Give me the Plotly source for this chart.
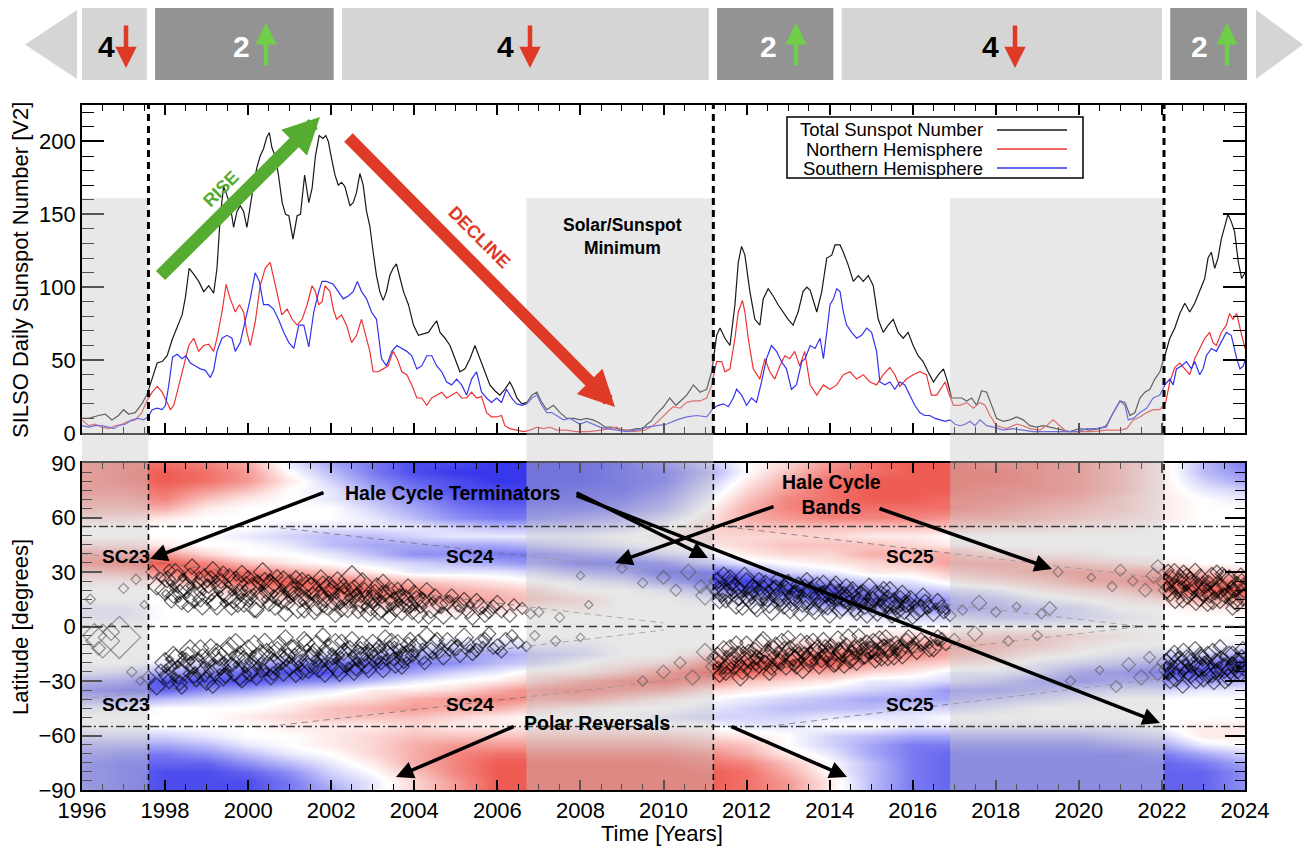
import plotly.graph_objects as go

# ------------------------------------------------------------------ DATA
# SILSO smoothed daily sunspot numbers: (year, value)
total_series = [
(1996.00,10),(1996.16,10),(1996.40,12),(1996.56,13),(1996.72,9),(1996.88,12),(1997.00,16),(1997.12,13),(1997.28,14),(1997.44,20),(1997.56,26),(1997.69,37),(1997.81,48),(1997.93,49),(1998.05,53),(1998.17,64),(1998.29,73),(1998.41,81),(1998.49,93),(1998.58,113),(1998.69,109),(1998.81,104),(1998.93,97),(1999.05,101),(1999.17,96),(1999.25,113),(1999.33,149),(1999.41,169),(1999.49,163),(1999.57,156),(1999.65,141),(1999.73,152),(1999.81,156),(1999.89,152),(1999.97,141),(2000.05,156),(2000.13,170),(2000.21,182),(2000.29,190),(2000.37,195),(2000.45,203),(2000.51,206),(2000.57,196),(2000.65,190),(2000.73,177),(2000.82,158),(2000.90,150),(2000.98,149),(2001.08,133),(2001.18,149),(2001.26,150),(2001.36,177),(2001.46,158),(2001.54,168),(2001.62,190),(2001.71,204),(2001.80,202),(2001.87,204),(2001.93,200),(2002.01,188),(2002.09,177),(2002.17,170),(2002.25,172),(2002.33,169),(2002.45,156),(2002.53,158),(2002.61,165),(2002.69,178),(2002.77,170),(2002.85,152),(2002.93,142),(2003.01,124),(2003.09,108),(2003.17,97),(2003.25,91),(2003.33,97),(2003.41,108),(2003.49,113),(2003.57,116),(2003.66,106),(2003.74,97),(2003.86,88),(2003.98,74),(2004.10,67),(2004.22,68),(2004.34,69),(2004.46,74),(2004.54,77),(2004.62,69),(2004.74,65),(2004.86,60),(2004.98,51),(2005.10,42),(2005.22,44),(2005.34,51),(2005.46,60),(2005.58,51),(2005.70,42),(2005.82,33),(2005.94,29),(2006.06,26),(2006.18,30),(2006.30,35),(2006.39,30),(2006.47,24),(2006.59,20),(2006.71,21),(2006.83,26),(2006.95,28),(2007.07,21),(2007.19,16),(2007.35,19),(2007.51,14),(2007.67,10),(2007.85,10),(2008.00,9),(2008.15,10),(2008.30,9),(2008.45,7),(2008.60,4),(2008.75,4),(2008.90,3),(2009.05,2),(2009.20,2),(2009.35,3),(2009.50,3),(2009.60,6),(2009.70,8),(2009.80,12),(2009.90,15),(2010.00,18),(2010.15,24),(2010.30,19),(2010.45,23),(2010.56,26),(2010.72,33),(2010.88,28),(2011.04,30),(2011.16,42),(2011.28,67),(2011.36,72),(2011.48,65),(2011.60,60),(2011.72,88),(2011.80,117),(2011.88,128),(2011.96,122),(2012.08,97),(2012.20,78),(2012.32,74),(2012.40,92),(2012.52,99),(2012.64,94),(2012.76,88),(2012.88,83),(2013.00,78),(2013.12,74),(2013.24,83),(2013.36,97),(2013.45,100),(2013.53,98),(2013.69,83),(2013.81,97),(2013.93,120),(2014.05,122),(2014.13,129),(2014.25,129),(2014.33,124),(2014.45,115),(2014.57,104),(2014.69,108),(2014.81,104),(2014.93,108),(2015.05,101),(2015.17,78),(2015.29,69),(2015.41,74),(2015.53,78),(2015.65,69),(2015.77,65),(2015.89,69),(2016.01,60),(2016.13,53),(2016.25,49),(2016.37,42),(2016.50,35),(2016.62,40),(2016.74,44),(2016.82,37),(2016.94,24),(2017.06,24),(2017.18,24),(2017.30,22),(2017.42,24),(2017.54,19),(2017.66,29),(2017.78,28),(2017.90,19),(2018.02,10),(2018.18,8),(2018.34,9),(2018.50,11),(2018.66,9),(2018.82,5),(2018.98,4),(2019.14,5),(2019.30,4),(2019.54,2),(2019.78,1),(2020.02,3),(2020.26,2),(2020.50,3),(2020.66,5),(2020.83,14),(2020.99,22),(2021.11,21),(2021.23,12),(2021.35,14),(2021.47,24),(2021.59,28),(2021.71,30),(2021.83,37),(2021.95,42),(2022.07,53),(2022.19,65),(2022.31,72),(2022.43,82),(2022.55,89),(2022.67,83),(2022.79,89),(2022.91,97),(2023.03,106),(2023.11,120),(2023.19,124),(2023.27,113),(2023.35,120),(2023.43,133),(2023.51,142),(2023.59,150),(2023.67,145),(2023.75,138),(2023.84,117),(2023.92,106),(2024.00,110),
]
north_series = [
(1996.00,9),(1996.16,5),(1996.32,6),(1996.48,4),(1996.64,3),(1996.80,5),(1996.96,6),(1997.12,8),(1997.28,9),(1997.44,14),(1997.56,22),(1997.69,28),(1997.81,32),(1997.93,28),(1998.05,21),(1998.13,16),(1998.21,19),(1998.33,32),(1998.45,46),(1998.57,60),(1998.69,65),(1998.81,56),(1998.93,60),(1999.05,61),(1999.17,56),(1999.25,65),(1999.37,83),(1999.47,102),(1999.57,92),(1999.69,83),(1999.79,88),(1999.89,83),(1999.97,69),(2000.05,60),(2000.17,76),(2000.29,101),(2000.41,113),(2000.53,117),(2000.61,108),(2000.69,97),(2000.81,81),(2000.94,85),(2001.06,78),(2001.18,74),(2001.30,78),(2001.42,88),(2001.54,101),(2001.62,97),(2001.70,88),(2001.78,90),(2001.85,101),(2001.97,97),(2002.05,85),(2002.13,78),(2002.25,81),(2002.37,74),(2002.49,62),(2002.61,67),(2002.73,78),(2002.81,69),(2002.93,56),(2003.01,42),(2003.13,42),(2003.25,44),(2003.37,46),(2003.49,56),(2003.59,51),(2003.70,42),(2003.82,40),(2003.94,33),(2004.06,24),(2004.18,24),(2004.30,19),(2004.42,24),(2004.54,26),(2004.66,28),(2004.78,24),(2004.90,26),(2005.02,28),(2005.14,24),(2005.26,24),(2005.38,28),(2005.50,24),(2005.62,25),(2005.74,14),(2005.86,11),(2005.98,11),(2006.10,12),(2006.18,5),(2006.30,3),(2006.47,2),(2006.63,1),(2006.79,2),(2006.95,4),(2007.11,3),(2007.27,4),(2007.43,2),(2007.67,2),(2007.90,1),(2008.20,1),(2008.50,2),(2008.70,3),(2008.87,4),(2009.00,2),(2009.30,1),(2009.55,2),(2009.75,5),(2009.90,9),(2010.07,14),(2010.23,18),(2010.40,17),(2010.56,21),(2010.72,22),(2010.88,22),(2011.04,24),(2011.16,33),(2011.28,49),(2011.40,49),(2011.48,42),(2011.60,44),(2011.72,65),(2011.80,83),(2011.90,91),(2011.96,83),(2012.04,65),(2012.16,44),(2012.32,37),(2012.44,51),(2012.56,42),(2012.68,37),(2012.80,46),(2012.92,53),(2013.04,51),(2013.16,56),(2013.28,46),(2013.40,56),(2013.53,33),(2013.69,26),(2013.85,33),(2014.01,30),(2014.17,33),(2014.33,40),(2014.49,42),(2014.65,37),(2014.81,40),(2014.97,35),(2015.13,33),(2015.29,40),(2015.45,45),(2015.57,40),(2015.69,32),(2015.85,37),(2016.01,40),(2016.17,42),(2016.33,40),(2016.45,26),(2016.58,26),(2016.70,32),(2016.78,35),(2016.86,28),(2016.98,19),(2017.14,19),(2017.30,21),(2017.46,17),(2017.62,21),(2017.74,19),(2017.86,12),(2018.02,5),(2018.26,3),(2018.50,6),(2018.66,5),(2018.82,3),(2019.06,2),(2019.22,5),(2019.38,9),(2019.54,5),(2019.70,1),(2020.02,1),(2020.34,1),(2020.66,2),(2020.99,2),(2021.15,3),(2021.31,9),(2021.47,11),(2021.63,14),(2021.79,16),(2021.95,16),(2022.09,21),(2022.19,35),(2022.31,45),(2022.43,48),(2022.55,44),(2022.67,40),(2022.79,51),(2022.91,58),(2023.03,65),(2023.15,69),(2023.23,62),(2023.31,60),(2023.43,69),(2023.55,74),(2023.63,82),(2023.71,78),(2023.80,82),(2023.88,72),(2023.97,62),(2024.00,58),
]
south_series = [
(1996.00,5),(1996.16,4),(1996.32,5),(1996.48,5),(1996.64,4),(1996.76,3),(1996.88,5),(1997.04,6),(1997.20,9),(1997.36,10),(1997.48,9),(1997.59,11),(1997.69,16),(1997.81,17),(1997.93,16),(1998.01,19),(1998.09,33),(1998.18,52),(1998.29,54),(1998.41,51),(1998.50,53),(1998.61,48),(1998.73,46),(1998.85,44),(1998.97,43),(1999.09,38),(1999.17,43),(1999.25,56),(1999.37,65),(1999.49,67),(1999.61,65),(1999.69,56),(1999.81,62),(1999.93,76),(2000.05,92),(2000.17,110),(2000.27,104),(2000.37,88),(2000.49,88),(2000.61,85),(2000.73,78),(2000.86,69),(2000.98,62),(2001.10,58),(2001.22,74),(2001.34,74),(2001.46,59),(2001.58,83),(2001.70,97),(2001.78,104),(2001.89,104),(2002.05,102),(2002.17,97),(2002.29,92),(2002.41,94),(2002.53,97),(2002.63,104),(2002.73,97),(2002.85,92),(2002.97,83),(2003.09,78),(2003.21,51),(2003.33,46),(2003.46,56),(2003.58,60),(2003.70,58),(2003.82,56),(2003.94,53),(2004.06,44),(2004.18,46),(2004.30,53),(2004.42,53),(2004.54,46),(2004.66,42),(2004.78,35),(2004.90,33),(2005.02,37),(2005.14,33),(2005.26,26),(2005.38,37),(2005.50,42),(2005.62,28),(2005.74,24),(2005.86,21),(2005.98,24),(2006.10,21),(2006.22,30),(2006.34,24),(2006.46,20),(2006.59,19),(2006.71,20),(2006.83,24),(2006.95,26),(2007.07,19),(2007.19,14),(2007.31,14),(2007.43,12),(2007.59,9),(2007.75,10),(2007.99,6),(2008.15,8),(2008.31,6),(2008.47,4),(2008.63,3),(2008.87,2),(2009.11,1),(2009.35,2),(2009.59,4),(2009.83,5),(2010.07,6),(2010.32,9),(2010.56,11),(2010.80,12),(2011.04,11),(2011.20,17),(2011.32,19),(2011.44,20),(2011.56,18),(2011.68,24),(2011.76,30),(2011.88,26),(2012.00,19),(2012.12,24),(2012.24,21),(2012.36,35),(2012.48,51),(2012.60,60),(2012.72,56),(2012.84,49),(2012.96,44),(2013.08,30),(2013.20,33),(2013.33,49),(2013.41,51),(2013.53,60),(2013.65,58),(2013.77,65),(2013.85,51),(2013.93,69),(2014.01,88),(2014.09,92),(2014.17,99),(2014.25,97),(2014.33,83),(2014.41,74),(2014.53,69),(2014.65,65),(2014.77,67),(2014.89,72),(2015.01,69),(2015.13,56),(2015.21,35),(2015.33,33),(2015.45,35),(2015.57,30),(2015.69,35),(2015.81,33),(2015.93,26),(2016.05,19),(2016.17,14),(2016.29,12),(2016.41,12),(2016.54,10),(2016.66,9),(2016.78,8),(2016.90,9),(2017.02,6),(2017.14,5),(2017.26,6),(2017.38,8),(2017.50,5),(2017.62,9),(2017.78,5),(2017.94,4),(2018.18,2),(2018.42,3),(2018.66,2),(2018.90,1),(2019.22,1),(2019.60,1),(2020.00,1),(2020.18,3),(2020.42,3),(2020.66,4),(2020.83,14),(2020.99,22),(2021.11,19),(2021.19,9),(2021.31,10),(2021.47,14),(2021.63,17),(2021.79,24),(2021.95,26),(2022.07,33),(2022.19,37),(2022.27,33),(2022.35,44),(2022.47,46),(2022.59,49),(2022.71,44),(2022.79,49),(2022.91,40),(2022.99,44),(2023.07,53),(2023.19,58),(2023.31,56),(2023.43,62),(2023.55,69),(2023.67,67),(2023.80,51),(2023.88,44),(2023.96,46),(2024.00,50),
]

# shaded solar-minimum intervals, Hale-cycle terminators, cycle phases
minima = [[1996.0, 1997.6], [2006.7, 2011.2], [2016.9, 2022.05]]
minimum_top = 161
terminators = [1997.6, 2011.2, 2022.05]
phase_edges = [1995.9, 1997.66, 2002.16, 2011.19, 2014.19, 2022.1, 2024.15]
phase_label = ['4', '2', '4', '2', '4', '2']

# Hale-cycle band field: one column per year, latitudes 90 -> -90 in steps of 5 deg
field_years = list(range(1996, 2025))
field_lats = list(range(-90, 95, 5))
field_cols = [
[6,6,6,6,5,4,2,0, 0,2,5,6,3,1,0,0,-1,-1,0,0,0,0,0,-1,-4,-6,-4,-1,0, 0,-2,-4,-5,-6,-6,-6,-6],
[7,7,7,6,5,4,2,0, 0,2,5,7,4,1,0,0,-1,-1,0,0,0,0,0,-2,-5,-7,-4,-1,0, 0,-2,-4,-6,-7,-7,-7,-7],
[7,8,8,7,6,4,1,0, 0,1,5,8,6,2,0,0,0,0,0,0,0,0,-1,-4,-8,-7,-3,0,0, 0,-2,-4,-6,-7,-8,-8,-8],
[6,7,7,5,3,1,0,0, 0,0,2,6,8,5,1,0,0,0,0,0,0,0,-2,-5,-8,-5,-2,0,0, 0,-1,-3,-5,-7,-8,-8,-8],
[4,5,5,3,1,0,0,0, -1,0,0,3,7,8,4,1,0,0,0,0,0,0,-3,-7,-8,-4,-1,0,1, 0,0,-1,-3,-5,-7,-8,-8],
[-1,0,1,0,0,0,0,-1, -2,-1,0,1,5,8,6,2,0,0,0,0,0,-1,-5,-8,-6,-2,0,1,2, 1,0,0,-1,-3,-5,-6,-6],
[-4,-3,-2,-1,-1,0,0,-1, -3,-3,-1,0,3,7,8,4,1,0,0,0,0,-2,-6,-8,-5,-1,1,3,3, 1,1,1,0,-1,-2,-3,-4],
[-6,-6,-5,-4,-3,-2,-1,-1, -3,-4,-3,-1,1,5,7,5,1,0,0,0,-1,-3,-7,-6,-3,1,2,4,3, 1,2,2,2,1,0,-1,-1],
[-8,-8,-7,-6,-5,-4,-3,-1, -2,-4,-5,-2,-1,3,6,5,2,0,0,0,-1,-4,-6,-4,-1,1,4,5,3, 2,3,4,4,4,3,2,2],
[-8,-9,-8,-8,-7,-6,-5,-2, -1,-4,-5,-3,-1,2,4,5,2,0,0,0,-2,-4,-5,-2,0,2,5,4,2, 1,3,5,6,6,6,5,5],
[-9,-9,-9,-8,-8,-7,-6,-3, -1,-4,-6,-4,-1,1,3,4,2,0,0,0,-2,-4,-3,-1,1,4,6,4,1, 1,3,5,7,8,8,8,8],
[-9,-9,-9,-9,-8,-7,-6,-3, -1,-3,-6,-5,-2,0,2,3,1,0,0,0,-1,-3,-2,1,3,6,5,2,0, 1,3,5,7,8,8,8,8],
[-9,-9,-9,-8,-8,-7,-5,-3, -1,-2,-5,-7,-4,-1,0,2,1,0,0,0,-1,-2,0,1,5,7,5,1,0, 1,3,5,7,8,8,8,8],
[-8,-8,-8,-8,-7,-6,-4,-2, 0,-1,-4,-7,-5,-2,0,0,0,0,0,0,0,0,1,3,7,6,3,0,0, 1,3,5,7,8,8,8,8],
[-6,-7,-7,-6,-5,-4,-2,0, 1,0,-2,-6,-8,-5,-1,0,0,0,0,0,0,0,2,6,8,5,1,0,-1, 0,3,5,7,8,8,8,8],
[-3,-4,-3,-2,-1,0,1,2, 2,1,-1,-3,-8,-8,-4,-1,0,0,0,0,0,2,6,9,6,2,0,-1,-2, 0,2,4,6,7,8,8,8],
[0,0,1,2,3,4,4,3, 2,2,1,-1,-5,-9,-7,-2,0,0,0,0,1,4,8,8,3,1,-1,-2,-2, -1,1,3,4,6,7,7,7],
[2,3,4,5,6,6,5,3, 2,3,2,0,-2,-6,-8,-5,-1,0,0,0,2,5,8,5,2,0,-2,-3,-2, -1,0,0,1,3,4,5,5],
[5,6,7,7,7,7,6,3, 2,3,2,1,-1,-4,-8,-7,-3,0,0,0,3,7,8,4,1,-1,-3,-3,-1, 0,-2,-2,-1,0,0,1,1],
[7,7,8,8,8,7,6,3, 1,3,4,2,1,-2,-5,-7,-4,-1,0,1,4,7,5,2,-1,-2,-4,-3,-1, 0,-3,-4,-4,-3,-3,-3,-3],
[8,8,8,8,8,7,6,3, 1,2,4,3,1,-1,-3,-6,-5,-2,0,2,5,6,3,1,-1,-3,-4,-2,-1, -1,-4,-6,-6,-6,-6,-6,-6],
[8,8,8,8,7,7,5,3, 0,1,4,5,3,1,-2,-4,-5,-2,0,2,5,4,2,-1,-2,-5,-4,-2,0, -1,-4,-6,-7,-7,-7,-7,-7],
[7,8,8,7,7,6,5,2, 0,0,2,5,4,2,-1,-3,-4,-3,0,3,4,3,1,-1,-3,-5,-3,-1,0, -1,-4,-6,-7,-7,-7,-7,-7],
[7,7,7,7,6,5,4,2, 0,0,1,4,5,3,1,-1,-3,-3,0,3,3,1,-1,-2,-5,-4,-2,0,0, -1,-4,-6,-7,-7,-7,-7,-7],
[6,6,6,6,5,4,3,1, 0,0,1,3,6,5,2,0,-2,-2,0,2,1,0,-2,-5,-6,-3,-1,0,0, -1,-4,-6,-7,-7,-7,-7,-7],
[4,4,4,4,3,3,2,1, 0,0,0,2,5,6,3,1,0,-1,0,1,0,-1,-3,-6,-5,-2,0,0,0, -1,-3,-5,-7,-7,-7,-7,-7],
[1,1,1,1,1,1,1,0, 0,0,0,1,5,8,6,2,0,0,0,0,0,-2,-5,-8,-5,-2,0,0,0, 0,-2,-4,-6,-7,-7,-7,-7],
[-3,-3,-2,-1,0,0,0,0, 0,0,0,0,3,7,8,4,1,0,0,0,0,-2,-6,-8,-5,-1,0,0,0, 1,1,-1,-4,-6,-7,-7,-7],
[-6,-5,-4,-2,-1,0,0,0, 0,0,0,0,2,6,8,5,1,0,0,0,-1,-4,-8,-7,-3,-1,0,0,0, 1,1,0,-2,-4,-5,-5,-5],
]

# fitted Hale-cycle band tracks (thin dashed): [(year, lat), (year, lat)]
band_fits = [
[(1996.0, 40), (2010.0, 2)], [(1996.0, -40), (2010.0, -2)],
[(2000.5, 55), (2021.5, 0)], [(2000.5, -55), (2021.5, 0)],
[(2011.5, 55), (2024.0, 21)], [(2012.5, -55), (2024.0, -23)],
]

# sunspot group positions: (year, latitude, relative size)
spots_early = [
(1996.2,15,6),(1996.3,-5,14),(1996.4,-12,8),(1996.5,-8,20),(1996.7,-3,10),(1996.9,-6,25),(1997.0,21,6),(1997.2,-25,6),(1997.3,26,6),(1997.4,-30,5),(1997.5,12,5),
]
spots_sc23_n = [
(1997.7,30,8),(1997.8,22,10),(1997.9,27,6),(1998.0,20,12),(1998.1,31,7),(1998.2,17,9),(1998.3,25,14),(1998.4,13,8),(1998.5,21,11),(1998.6,28,9),(1998.7,16,13),(1998.8,24,7),(1998.9,11,10),(1999.0,19,15),(1999.1,27,8),(1999.2,14,11),(1999.3,22,9),(1999.4,30,7),(1999.5,17,12),(1999.6,10,8),(1999.7,24,14),(1999.8,19,9),(1999.9,13,11),(2000.0,27,8),(2000.1,21,13),(2000.2,9,9),(2000.3,16,12),(2000.4,25,10),(2000.5,12,8),(2000.6,20,15),(2000.7,28,7),(2000.8,15,11),(2000.9,7,9),(2001.0,23,12),(2001.1,18,9),(2001.2,11,14),(2001.3,26,8),(2001.4,14,10),(2001.5,21,13),(2001.6,8,9),(2001.7,17,11),(2001.8,24,8),(2001.9,12,12),(2002.0,19,10),(2002.1,6,8),(2002.2,15,13),(2002.3,22,9),(2002.4,10,11),(2002.5,26,16),(2002.6,17,8),(2002.7,13,12),(2002.8,20,9),(2002.9,7,10),(2003.0,15,11),(2003.1,23,8),(2003.2,11,13),(2003.3,18,9),(2003.4,5,8),(2003.5,14,11),(2003.6,21,7),(2003.7,9,12),(2003.8,16,9),(2003.9,12,10),(2004.0,19,8),(2004.1,7,11),(2004.2,14,9),(2004.4,10,12),(2004.5,17,8),(2004.7,6,10),(2004.8,13,9),(2005.0,9,11),(2005.2,15,8),(2005.4,5,9),(2005.6,11,10),(2005.8,8,8),(2006.0,13,9),(2006.3,6,8),(2006.6,10,7),(2007.0,8,6),(2007.5,5,6),(2008.2,12,5),
(1998.05,26,10),(1998.15,14,8),(1998.25,29,12),(1998.35,19,9),(1998.45,23,13),(1998.55,11,7),(1998.65,33,9),(1998.75,20,11),(1998.85,15,9),(1998.95,26,12),(1999.05,22,8),(1999.15,31,10),(1999.25,12,12),(1999.35,25,9),(1999.45,20,14),(1999.55,28,8),(1999.65,15,11),(1999.75,12,9),(1999.85,29,10),(1999.95,22,12),(2000.05,16,9),(2000.15,11,13),(2000.25,24,8),(2000.35,30,11),(2000.45,19,9),(2000.55,23,12),(2000.65,10,8),(2000.75,17,10),(2000.85,25,12),(2000.95,13,9),(2001.05,20,11),(2001.15,27,8),(2001.25,16,12),(2001.35,9,9),(2001.45,24,10),(2001.55,18,8),(2001.65,12,13),(2001.75,27,9),(2001.85,15,10),(2001.95,22,12),(2002.05,13,9),(2002.15,25,11),(2002.25,9,8),(2002.35,18,13),(2002.45,14,9),(2002.55,21,10),(2002.65,8,8),(2002.75,24,12),(2002.85,16,9),(2002.95,11,11),(2003.05,19,9),(2003.15,8,10),(2003.25,25,8),(2003.35,13,12),(2003.45,20,9),(2003.55,10,10),(2003.65,17,8),(2003.75,13,11),(2003.85,22,9),(2003.95,8,9),(2004.05,15,10),(2004.15,11,8),(2004.3,20,9),(2004.35,5,8),(2004.6,12,10),(2004.9,17,8),(2005.1,12,9),(2005.3,8,8),(2005.5,14,9),(2005.7,6,8),(2005.9,11,8),(2006.1,8,7),(2006.4,12,7),(2006.8,7,6),
(1998.02,18,5),(1998.12,24,4),(1998.22,21,5),(1998.32,15,4),(1998.42,27,5),(1998.52,17,4),(1998.62,22,5),(1998.72,13,4),(1998.82,28,5),(1998.92,19,4),(1999.02,24,5),(1999.12,16,4),(1999.22,26,5),(1999.32,18,4),(1999.42,13,5),(1999.52,23,4),(1999.62,19,5),(1999.72,27,4),(1999.82,16,5),(1999.92,21,4),(2000.02,13,5),(2000.12,19,4),(2000.22,26,5),(2000.32,21,4),(2000.42,15,5),(2000.52,27,4),(2000.62,18,5),(2000.72,13,4),(2000.82,21,5),(2000.92,18,4),(2001.02,15,5),(2001.12,23,4),(2001.22,19,5),(2001.32,13,4),(2001.42,18,5),(2001.52,25,4),(2001.62,15,5),(2001.72,21,4),(2001.82,10,5),(2001.92,18,4),(2002.02,23,5),(2002.12,17,4),(2002.22,12,5),(2002.32,20,4),(2002.42,16,5),(2002.52,12,4),(2002.62,19,5),(2002.72,15,4),(2002.82,11,5),(2002.92,18,4),(2003.02,13,5),(2003.12,17,4),(2003.22,15,5),(2003.32,21,4),(2003.42,11,5),(2003.52,17,4),(2003.62,13,5),(2003.72,19,4),(2003.82,10,5),(2003.92,15,4),(2004.02,11,5),(2004.2,17,4),(2004.45,14,5),(2004.65,9,4),(2004.85,15,5),(2005.05,10,4),(2005.35,12,5),(2005.65,9,4),
]
spots_sc23_s = [
(1997.6,-28,8),(1997.8,-33,10),(1997.9,-24,7),(1998.0,-20,12),(1998.1,-30,9),(1998.2,-16,11),(1998.3,-25,14),(1998.4,-34,7),(1998.5,-19,10),(1998.6,-13,12),(1998.7,-27,9),(1998.8,-22,15),(1998.9,-16,8),(1999.0,-30,11),(1999.1,-11,9),(1999.2,-24,13),(1999.3,-18,8),(1999.4,-28,10),(1999.5,-14,12),(1999.6,-21,9),(1999.7,-9,11),(1999.8,-26,14),(1999.9,-17,8),(2000.0,-12,10),(2000.1,-23,12),(2000.2,-29,7),(2000.3,-15,11),(2000.4,-8,9),(2000.5,-20,16),(2000.6,-26,8),(2000.7,-13,10),(2000.8,-18,13),(2000.9,-6,9),(2001.0,-22,11),(2001.1,-11,8),(2001.2,-16,12),(2001.3,-25,9),(2001.4,-9,10),(2001.5,-19,14),(2001.6,-13,8),(2001.7,-23,11),(2001.8,-5,9),(2001.9,-16,12),(2002.0,-21,8),(2002.1,-10,13),(2002.2,-26,9),(2002.3,-14,10),(2002.4,-18,15),(2002.5,-7,9),(2002.6,-22,11),(2002.7,-12,8),(2002.8,-17,12),(2002.9,-24,9),(2003.0,-9,10),(2003.1,-15,13),(2003.2,-20,8),(2003.3,-6,9),(2003.4,-13,11),(2003.5,-18,8),(2003.6,-10,12),(2003.7,-22,9),(2003.8,-15,10),(2003.9,-7,8),(2004.0,-12,11),(2004.2,-17,9),(2004.3,-5,10),(2004.5,-10,12),(2004.6,-14,8),(2004.8,-8,10),(2005.0,-12,9),(2005.2,-6,11),(2005.4,-15,8),(2005.6,-9,10),(2005.8,-4,8),(2006.0,-11,9),(2006.2,-7,8),(2006.5,-9,7),(2006.9,-5,6),(2007.4,-8,6),(2008.0,-6,5),
(1998.05,-27,10),(1998.15,-22,8),(1998.25,-18,12),(1998.35,-31,9),(1998.45,-24,13),(1998.55,-15,8),(1998.65,-21,11),(1998.75,-29,9),(1998.85,-12,10),(1998.95,-25,12),(1999.05,-19,9),(1999.15,-33,8),(1999.25,-15,12),(1999.35,-22,10),(1999.45,-27,9),(1999.55,-11,11),(1999.65,-24,13),(1999.75,-17,9),(1999.85,-30,8),(1999.95,-20,12),(2000.05,-26,9),(2000.15,-10,11),(2000.25,-18,13),(2000.35,-24,8),(2000.45,-14,10),(2000.55,-28,9),(2000.65,-21,12),(2000.75,-9,8),(2000.85,-25,11),(2000.95,-16,9),(2001.05,-13,12),(2001.15,-27,8),(2001.25,-20,10),(2001.35,-7,9),(2001.45,-23,12),(2001.55,-15,9),(2001.65,-10,11),(2001.75,-19,8),(2001.85,-26,10),(2001.95,-12,12),(2002.05,-17,9),(2002.15,-23,11),(2002.25,-8,8),(2002.35,-20,12),(2002.45,-12,9),(2002.55,-25,10),(2002.65,-16,13),(2002.75,-9,8),(2002.85,-21,11),(2002.95,-14,9),(2003.05,-18,10),(2003.15,-11,8),(2003.25,-24,9),(2003.35,-16,12),(2003.45,-8,9),(2003.55,-21,10),(2003.65,-13,8),(2003.75,-18,11),(2003.85,-10,9),(2003.95,-16,8),(2004.1,-9,10),(2004.25,-20,8),(2004.4,-13,9),(2004.55,-7,8),(2004.7,-17,9),(2004.9,-11,8),(2005.1,-16,8),(2005.3,-10,9),(2005.5,-13,8),(2005.7,-7,8),(2005.9,-12,7),(2006.1,-14,7),(2006.35,-5,7),(2006.7,-11,6),
(1998.02,-23,5),(1998.12,-18,4),(1998.22,-28,5),(1998.32,-21,4),(1998.42,-16,5),(1998.52,-26,4),(1998.62,-19,5),(1998.72,-24,4),(1998.82,-17,5),(1998.92,-21,4),(1999.02,-26,5),(1999.12,-20,4),(1999.22,-14,5),(1999.32,-25,4),(1999.42,-19,5),(1999.52,-23,4),(1999.62,-16,5),(1999.72,-21,4),(1999.82,-13,5),(1999.92,-24,4),(2000.02,-19,5),(2000.12,-15,4),(2000.22,-22,5),(2000.32,-19,4),(2000.42,-25,5),(2000.52,-13,4),(2000.62,-17,5),(2000.72,-22,4),(2000.82,-15,5),(2000.92,-20,4),(2001.02,-18,5),(2001.12,-14,4),(2001.22,-21,5),(2001.32,-17,4),(2001.42,-12,5),(2001.52,-22,4),(2001.62,-18,5),(2001.72,-14,4),(2001.82,-20,5),(2001.92,-9,4),(2002.02,-14,5),(2002.12,-19,4),(2002.22,-16,5),(2002.32,-11,4),(2002.42,-22,5),(2002.52,-15,4),(2002.62,-19,5),(2002.72,-13,4),(2002.82,-17,5),(2002.92,-11,4),(2003.02,-15,5),(2003.12,-19,4),(2003.22,-12,5),(2003.32,-17,4),(2003.42,-14,5),(2003.52,-10,4),(2003.62,-16,5),(2003.72,-13,4),(2003.82,-19,5),(2003.92,-12,4),(2004.02,-15,5),(2004.2,-11,4),(2004.45,-16,5),(2004.65,-11,4),(2004.85,-14,5),(2005.05,-9,4),(2005.35,-12,5),(2005.65,-10,4),
]
spots_sc24_n = [
(2008.0,28,5),(2009.0,32,6),(2009.5,24,6),(2010.0,27,8),(2010.3,20,7),(2010.6,30,9),(2010.9,22,8),(2011.0,17,11),(2011.3,25,10),(2011.4,19,13),(2011.5,14,8),(2011.6,27,9),(2011.7,21,12),(2011.8,16,10),(2011.9,10,8),(2012.0,23,14),(2012.1,18,9),(2012.2,12,11),(2012.3,26,8),(2012.4,20,12),(2012.5,15,9),(2012.6,8,10),(2012.7,22,8),(2012.8,17,13),(2012.9,11,9),(2013.0,24,10),(2013.1,14,12),(2013.2,19,8),(2013.3,7,9),(2013.4,21,11),(2013.5,16,14),(2013.6,10,8),(2013.7,23,9),(2013.8,13,12),(2013.9,18,10),(2014.0,6,9),(2014.1,20,13),(2014.2,15,8),(2014.3,11,11),(2014.4,22,9),(2014.5,17,12),(2014.6,9,8),(2014.7,14,10),(2014.8,19,9),(2014.9,7,11),(2015.0,12,8),(2015.1,17,12),(2015.2,10,9),(2015.3,21,8),(2015.4,14,13),(2015.5,6,9),(2015.6,11,10),(2015.7,16,8),(2015.8,9,11),(2015.9,13,9),(2016.0,5,8),(2016.2,10,10),(2016.3,14,8),(2016.5,7,9),(2016.7,11,8),(2016.9,6,7),(2017.2,9,6),(2017.6,13,9),(2018.0,8,6),(2018.5,11,5),(2019.1,7,6),(2019.3,10,8),
(2011.25,22,10),(2011.35,14,9),(2011.45,29,8),(2011.55,18,12),(2011.65,24,9),(2011.75,12,11),(2011.85,20,9),(2011.95,27,12),(2012.05,15,9),(2012.15,21,11),(2012.25,9,8),(2012.35,17,12),(2012.45,24,9),(2012.55,12,10),(2012.65,19,13),(2012.75,26,8),(2012.85,14,11),(2012.95,21,9),(2013.05,9,10),(2013.15,17,12),(2013.25,23,9),(2013.35,13,11),(2013.45,26,8),(2013.55,20,10),(2013.65,8,9),(2013.75,16,12),(2013.85,24,9),(2013.95,11,10),(2014.05,18,12),(2014.15,24,8),(2014.25,9,10),(2014.35,16,13),(2014.45,13,9),(2014.55,20,10),(2014.65,7,8),(2014.75,17,12),(2014.85,11,9),(2014.95,22,10),(2015.05,15,9),(2015.15,8,11),(2015.25,18,9),(2015.35,11,8),(2015.45,20,10),(2015.55,13,12),(2015.65,8,8),(2015.75,18,10),(2015.85,12,9),(2015.95,16,8),(2016.1,8,10),(2016.25,17,9),(2016.4,11,8),(2016.6,14,9),(2016.75,8,8),
(2011.22,19,5),(2011.32,23,4),(2011.42,16,5),(2011.52,22,4),(2011.62,19,5),(2011.72,25,4),(2011.82,14,5),(2011.92,18,4),(2012.02,20,5),(2012.12,14,4),(2012.22,23,5),(2012.32,19,4),(2012.42,14,5),(2012.52,21,4),(2012.62,16,5),(2012.72,19,4),(2012.82,13,5),(2012.92,24,4),(2013.02,17,5),(2013.12,20,4),(2013.22,15,5),(2013.32,18,4),(2013.42,12,5),(2013.52,22,4),(2013.62,17,5),(2013.72,14,4),(2013.82,20,5),(2013.92,15,4),(2014.02,13,5),(2014.12,17,4),(2014.22,21,5),(2014.32,13,4),(2014.42,18,5),(2014.52,11,4),(2014.62,15,5),(2014.72,20,4),(2014.82,13,5),(2014.92,16,4),(2015.02,10,5),(2015.12,14,4),(2015.22,13,5),(2015.32,16,4),(2015.42,9,5),(2015.52,15,4),(2015.62,12,5),(2015.72,10,4),(2015.82,15,5),(2015.92,10,4),(2016.05,12,5),(2016.2,13,4),(2016.35,9,5),(2016.55,11,4),(2016.8,9,5),
]
spots_sc24_s = [
(2009.5,-30,6),(2010.0,-25,8),(2010.4,-20,7),(2010.7,-28,9),(2011.0,-14,10),(2011.2,-22,9),(2011.3,-17,12),(2011.5,-26,8),(2011.6,-12,10),(2011.7,-20,13),(2011.8,-15,9),(2011.9,-24,11),(2012.0,-9,8),(2012.1,-18,12),(2012.2,-13,9),(2012.3,-21,10),(2012.4,-7,9),(2012.5,-16,14),(2012.6,-23,8),(2012.7,-11,11),(2012.8,-19,9),(2012.9,-14,12),(2013.0,-6,8),(2013.1,-17,10),(2013.2,-22,9),(2013.3,-10,13),(2013.4,-15,8),(2013.5,-20,11),(2013.6,-8,9),(2013.7,-13,12),(2013.8,-18,10),(2013.9,-11,8),(2014.0,-16,14),(2014.1,-21,9),(2014.2,-7,10),(2014.3,-14,12),(2014.4,-10,8),(2014.5,-18,11),(2014.6,-12,9),(2014.7,-5,8),(2014.8,-15,13),(2014.9,-9,9),(2015.0,-13,11),(2015.1,-19,8),(2015.2,-7,10),(2015.3,-11,9),(2015.4,-16,12),(2015.6,-9,8),(2015.7,-13,10),(2015.9,-6,9),(2016.0,-11,8),(2016.2,-8,10),(2016.4,-13,8),(2016.6,-6,9),(2016.8,-10,7),(2017.0,-7,7),(2017.5,-4,9),(2018.3,-8,6),(2019.0,-5,6),
(2011.25,-19,10),(2011.35,-27,8),(2011.45,-13,11),(2011.55,-22,9),(2011.65,-17,12),(2011.75,-9,8),(2011.85,-28,10),(2011.95,-19,12),(2012.05,-14,9),(2012.15,-24,11),(2012.25,-17,9),(2012.35,-10,12),(2012.45,-20,9),(2012.55,-26,8),(2012.65,-13,11),(2012.75,-17,13),(2012.85,-8,9),(2012.95,-22,10),(2013.05,-12,9),(2013.15,-19,12),(2013.25,-15,8),(2013.35,-24,10),(2013.45,-9,9),(2013.55,-17,12),(2013.65,-13,9),(2013.75,-21,11),(2013.85,-7,8),(2013.95,-15,10),(2014.05,-11,9),(2014.15,-19,12),(2014.25,-14,9),(2014.35,-22,8),(2014.45,-6,10),(2014.55,-16,12),(2014.65,-20,9),(2014.75,-11,10),(2014.85,-17,8),(2014.95,-13,11),(2015.05,-8,9),(2015.15,-15,10),(2015.25,-18,8),(2015.35,-6,9),(2015.45,-12,11),(2015.55,-17,9),(2015.65,-11,8),(2015.75,-15,12),(2015.85,-8,9),(2016.1,-14,9),(2016.3,-9,8),(2016.5,-12,10),(2016.7,-7,8),
(2011.22,-16,5),(2011.32,-21,4),(2011.42,-24,5),(2011.52,-15,4),(2011.62,-22,5),(2011.72,-18,4),(2011.82,-21,5),(2011.92,-13,4),(2012.02,-20,5),(2012.12,-15,4),(2012.22,-22,5),(2012.32,-16,4),(2012.42,-18,5),(2012.52,-12,4),(2012.62,-20,5),(2012.72,-15,4),(2012.82,-22,5),(2012.92,-17,4),(2013.02,-14,5),(2013.12,-20,4),(2013.22,-12,5),(2013.32,-18,4),(2013.42,-16,5),(2013.52,-13,4),(2013.62,-19,5),(2013.72,-16,4),(2013.82,-12,5),(2013.92,-18,4),(2014.02,-13,5),(2014.12,-17,4),(2014.22,-11,5),(2014.32,-18,4),(2014.42,-15,5),(2014.52,-12,4),(2014.62,-16,5),(2014.72,-14,4),(2014.82,-11,5),(2014.92,-16,4),(2015.02,-15,5),(2015.12,-11,4),(2015.22,-14,5),(2015.32,-9,4),(2015.42,-15,5),(2015.52,-12,4),(2015.62,-14,5),(2015.72,-9,4),(2015.82,-12,5),(2015.92,-10,4),(2016.05,-8,5),(2016.2,-12,4),(2016.4,-10,5),(2016.6,-9,4),
]
spots_sc25_n = [
(2019.5,30,6),(2020.3,27,5),(2020.8,22,6),(2021.0,31,7),(2021.3,25,6),(2021.6,20,8),(2021.8,28,9),(2021.9,33,8),(2022.1,24,11),(2022.15,31,7),(2022.2,18,9),(2022.3,29,12),(2022.4,21,10),(2022.45,27,9),(2022.5,14,8),(2022.6,26,13),(2022.7,19,9),(2022.8,31,8),(2022.85,22,12),(2022.9,16,11),(2023.0,23,10),(2023.1,12,8),(2023.15,17,9),(2023.2,27,12),(2023.3,20,9),(2023.4,15,11),(2023.45,29,8),(2023.5,25,14),(2023.6,18,9),(2023.7,10,8),(2023.75,14,10),(2023.8,22,12),(2023.9,28,9),(2023.95,16,10),
(2022.12,20,10),(2022.22,27,9),(2022.32,15,11),(2022.42,24,12),(2022.52,30,8),(2022.62,17,10),(2022.72,23,12),(2022.82,13,9),(2022.92,27,10),(2023.02,19,12),(2023.12,24,9),(2023.22,14,10),(2023.32,30,8),(2023.42,21,12),(2023.52,17,9),(2023.62,26,11),(2023.72,20,9),(2023.82,12,8),(2023.92,24,11),(2023.97,20,9),
(2022.08,22,5),(2022.18,26,4),(2022.28,20,5),(2022.38,17,4),(2022.48,23,5),(2022.58,21,4),(2022.68,28,5),(2022.78,18,4),(2022.88,24,5),(2022.98,16,4),(2023.08,21,5),(2023.18,23,4),(2023.28,17,5),(2023.38,25,4),(2023.48,19,5),(2023.58,14,4),(2023.68,23,5),(2023.78,18,4),(2023.88,21,5),(2023.98,25,4),
]
spots_sc25_s = [
(2019.8,-30,6),(2020.5,-24,5),(2020.9,-33,7),(2021.2,-21,8),(2021.5,-28,9),(2021.7,-17,7),(2021.9,-25,10),(2022.1,-20,11),(2022.15,-26,8),(2022.2,-30,9),(2022.3,-15,10),(2022.4,-24,13),(2022.5,-33,8),(2022.55,-22,10),(2022.6,-18,11),(2022.7,-27,9),(2022.8,-12,8),(2022.9,-22,12),(2022.95,-17,9),(2023.0,-29,9),(2023.1,-16,11),(2023.2,-25,13),(2023.25,-31,8),(2023.3,-19,9),(2023.4,-11,8),(2023.5,-23,12),(2023.6,-28,10),(2023.65,-24,11),(2023.7,-15,9),(2023.8,-20,12),(2023.9,-26,9),(2023.95,-13,10),
(2022.12,-24,10),(2022.22,-17,9),(2022.32,-28,11),(2022.42,-19,12),(2022.52,-13,8),(2022.62,-25,10),(2022.72,-20,12),(2022.82,-30,9),(2022.92,-16,10),(2023.02,-22,12),(2023.12,-27,9),(2023.22,-14,10),(2023.32,-24,8),(2023.42,-19,12),(2023.52,-30,9),(2023.62,-16,11),(2023.72,-21,9),(2023.82,-25,8),(2023.92,-18,11),(2023.97,-23,9),
(2022.08,-22,5),(2022.18,-27,4),(2022.28,-21,5),(2022.38,-16,4),(2022.48,-26,5),(2022.58,-20,4),(2022.68,-23,5),(2022.78,-18,4),(2022.88,-25,5),(2022.98,-20,4),(2023.08,-18,5),(2023.18,-22,4),(2023.28,-27,5),(2023.38,-21,4),(2023.48,-17,5),(2023.58,-25,4),(2023.68,-19,5),(2023.78,-23,4),(2023.88,-21,5),(2023.98,-16,4),
]

# ------------------------------------------------------------------ LAYOUT HELPERS
# The page body adds an 8px margin, so the figure is 8px smaller and every
# pixel position below is given in page coordinates of the 1312x849 window.
PAGE_W, PAGE_H, BODY = 1312, 849, 8
W, H = PAGE_W - BODY, PAGE_H - BODY
PL, PR, PT, PB = 82, 1245, 105, 790          # plot-area pixel box (page coords)
FONT = "Liberation Sans, Arial, Helvetica, sans-serif"

def fx(p):
    return (p - PL) / (PR - PL)

def fy(p):
    return (PB - p) / (PB - PT)

def yr(v):
    return (v - 1996.0) / 28.0

TOP_DOM = [fy(433), 1.0]
BOT_DOM = [0.0, fy(463)]
SSN_MAX = 225
SPOT_SCALE = 1.3

for i, col in enumerate(field_cols):
    if len(col) != len(field_lats):
        raise ValueError("field column %d has %d values" % (field_years[i], len(col)))

z = [[field_cols[c][len(field_lats) - 1 - r] for c in range(len(field_years))]
     for r in range(len(field_lats))]

fig = go.Figure()

fig.add_trace(go.Heatmap(
    x=field_years, y=field_lats, z=z, zmin=-9, zmax=9, zsmooth="best",
    colorscale=[[0, "rgb(55,55,235)"], [0.5, "rgb(255,255,255)"], [1, "rgb(236,72,62)"]],
    showscale=False, hoverinfo="skip", xaxis="x2", yaxis="y2"))

for seg in band_fits:
    fig.add_trace(go.Scatter(
        x=[p[0] for p in seg], y=[p[1] for p in seg], mode="lines",
        line=dict(color="rgba(110,110,110,0.75)", width=1, dash="6px,5px"),
        hoverinfo="skip", showlegend=False, xaxis="x2", yaxis="y2"))

all_spots = spots_early + spots_sc23_n + spots_sc23_s + spots_sc24_n + spots_sc24_s + spots_sc25_n + spots_sc25_s
fig.add_trace(go.Scatter(
    x=[s[0] for s in all_spots], y=[s[1] for s in all_spots], mode="markers",
    marker=dict(symbol="diamond-open", size=[s[2] * SPOT_SCALE for s in all_spots],
                color="rgba(0,0,0,0.82)", line=dict(width=1.25)),
    hoverinfo="skip", showlegend=False, xaxis="x2", yaxis="y2"))

series_style = [
    ("Total Sunspot Number", total_series, "rgb(25,25,25)"),
    ("Northern Hemisphere", north_series, "rgb(238,50,50)"),
    ("Southern Hemisphere", south_series, "rgb(50,50,238)"),
]
for name, ser, col in series_style:
    fig.add_trace(go.Scatter(
        x=[p[0] for p in ser], y=[p[1] for p in ser], mode="lines", name=name,
        line=dict(color=col, width=1.2), showlegend=False, xaxis="x", yaxis="y"))

# ------------------------------------------------------------------ SHAPES
shapes = []
by0, by1 = fy(80), fy(8)
for i in range(len(phase_label)):
    a, b = phase_edges[i] + 0.1, phase_edges[i + 1] - 0.1
    dark = phase_label[i] == "2"
    shapes.append(dict(type="rect", xref="paper", yref="paper", x0=yr(a), x1=yr(b), y0=by0, y1=by1,
                       fillcolor="#939393" if dark else "#d5d5d5", line=dict(width=0), layer="above"))
shapes.append(dict(type="path", xref="paper", yref="paper", fillcolor="#d5d5d5", line=dict(width=0),
                   path="M %f %f L %f %f L %f %f Z" % (fx(77), fy(10), fx(77), fy(79), fx(25), fy(44.5))))
shapes.append(dict(type="path", xref="paper", yref="paper", fillcolor="#d5d5d5", line=dict(width=0),
                   path="M %f %f L %f %f L %f %f Z" % (fx(1256), fy(10), fx(1256), fy(79), fx(1303), fy(44.5))))

gray_top = TOP_DOM[0] + minimum_top / SSN_MAX * (TOP_DOM[1] - TOP_DOM[0])
for a, b in minima:
    shapes.append(dict(type="rect", xref="x", yref="paper", x0=a, x1=b, y0=0, y1=gray_top,
                       fillcolor="rgba(200,200,200,0.42)", line=dict(width=0), layer="above"))

for lat, dsh in [(55, "9px,3px,2px,3px"), (-55, "9px,3px,2px,3px"), (0, "8px,5px")]:
    shapes.append(dict(type="line", xref="x2", yref="y2", x0=1996, x1=2024, y0=lat, y1=lat,
                       line=dict(color="rgb(60,60,60)", width=1.5, dash=dsh), layer="above"))

for t in terminators:
    shapes.append(dict(type="line", xref="x", yref="y", x0=t, x1=t, y0=0, y1=SSN_MAX,
                       line=dict(color="black", width=3, dash="7px,5px"), layer="above"))
    shapes.append(dict(type="line", xref="x2", yref="y2", x0=t, x1=t, y0=-90, y1=90,
                       line=dict(color="black", width=1.6, dash="6px,4px"), layer="above"))

shapes.append(dict(type="rect", xref="paper", yref="paper", x0=fx(787), x1=fx(1083), y0=fy(178), y1=fy(117),
                   fillcolor="white", line=dict(color="black", width=1.5), layer="above"))
for k, (name, ser, col) in enumerate(series_style):
    yy = fy(130 + 19 * k)
    shapes.append(dict(type="line", xref="paper", yref="paper", x0=fx(997), x1=fx(1067), y0=yy, y1=yy,
                       line=dict(color=col, width=1.3), layer="above"))

# ------------------------------------------------------------------ ANNOTATIONS
ann = []

def label(px, py, text, size, color="black", bold=True, angle=0, xanchor="center"):
    ann.append(dict(xref="paper", yref="paper", x=fx(px), y=fy(py), text=text, showarrow=False,
                    xanchor=xanchor, yanchor="middle", textangle=angle,
                    font=dict(family=FONT, size=size, color=color, weight="bold" if bold else "normal")))

def arrow(tip, tail, width, color, size=1.0, head=2):
    ann.append(dict(xref="paper", yref="paper", x=fx(tip[0]), y=fy(tip[1]), text="",
                    showarrow=True, axref="pixel", ayref="pixel",
                    ax=tail[0] - tip[0], ay=tail[1] - tip[1],
                    arrowhead=head, arrowsize=size, arrowwidth=width, arrowcolor=color, standoff=0))

label(20, 270, "SILSO Daily Sunspot Number [V2]", 22, bold=False, angle=-90)
label(20, 627, "Latitude [degrees]", 22, bold=False, angle=-90)
label(662, 833, "Time [Years]", 22, bold=False)

digit_px = [106, 241, 505, 769, 990, 1199]
arrow_px = [126, 266, 530, 796, 1015, 1227]
for i, lab in enumerate(phase_label):
    if lab == "4":
        label(digit_px[i], 47, "4", 30, color="black")
        arrow((arrow_px[i], 68), (arrow_px[i], 24), 4.5, "rgb(222,58,38)", 0.95)
    else:
        label(digit_px[i], 47, "2", 30, color="white")
        arrow((arrow_px[i], 23), (arrow_px[i], 67), 4.5, "rgb(112,206,74)", 0.95)

arrow((320, 117), (159, 277), 13, "rgb(86,172,48)", 0.56)
arrow((615, 407), (347, 136), 12, "rgb(222,58,38)", 0.6)
label(221, 189, "RISE", 18, color="rgb(86,172,48)", angle=-45)
label(479, 237, "DECLINE", 18, color="rgb(222,58,38)", angle=45)
label(622, 237, "Solar/Sunspot<br>Minimum", 17.5)

for k, (name, ser, col) in enumerate(series_style):
    label(985, 130 + 19 * k, name, 18.5, bold=False, xanchor="right")

label(452, 493, "Hale Cycle Terminators", 19.5)
label(831, 494, "Hale Cycle<br>Bands", 19.5)
label(597, 723, "Polar Reversals", 19.5)
label(126, 556, "SC23", 19)
label(126, 704, "SC23", 19)
label(470, 556, "SC24", 19)
label(470, 704, "SC24", 19)
label(910, 556, "SC25", 19)
label(910, 704, "SC25", 19)

arrow((150, 559), (325, 492), 3.5, "black")
arrow((708, 558), (575, 492), 3.5, "black")
arrow((1160, 723), (575, 495), 3.5, "black")
arrow((615, 563), (775, 506), 3.5, "black")
arrow((1052, 569), (878, 508), 3.5, "black")
arrow((396, 777), (515, 726), 3.5, "black")
arrow((847, 777), (730, 726), 3.5, "black")

# ------------------------------------------------------------------ AXES
axis_common = dict(showline=True, linecolor="black", linewidth=1.6, mirror="ticks", ticks="inside",
                   tickcolor="black", tickwidth=1.5, showgrid=False, zeroline=False,
                   tickfont=dict(family=FONT, size=22, color="black"))
xminor = dict(dtick=0.5, tick0=1996, ticklen=6, ticks="inside", tickcolor="black", tickwidth=1.2)

fig.update_layout(
    width=W, height=H,
    margin=dict(l=PL - BODY, r=PAGE_W - PR, t=PT - BODY, b=PAGE_H - PB, autoexpand=False),
    paper_bgcolor="white", plot_bgcolor="white",
    showlegend=False,
    xaxis=dict(domain=[0, 1], range=[1996, 2024], anchor="y", tick0=1996, dtick=2, ticklen=10,
               showticklabels=False, minor=xminor, **axis_common),
    yaxis=dict(domain=TOP_DOM, range=[0, SSN_MAX], anchor="x", tick0=0, dtick=50, ticklen=22,
               minor=dict(dtick=10, ticklen=12, ticks="inside", tickcolor="black", tickwidth=1.2),
               **axis_common),
    xaxis2=dict(domain=[0, 1], range=[1996, 2024], anchor="y2", tick0=1996, dtick=2, ticklen=10,
                minor=xminor, **axis_common),
    yaxis2=dict(domain=BOT_DOM, range=[-90, 90], anchor="x2", tick0=-90, dtick=30, ticklen=20,
                minor=dict(dtick=5, ticklen=10, ticks="inside", tickcolor="black", tickwidth=1.2),
                **axis_common),
    shapes=shapes,
    annotations=ann,
)

fig.write_html("out.html")
